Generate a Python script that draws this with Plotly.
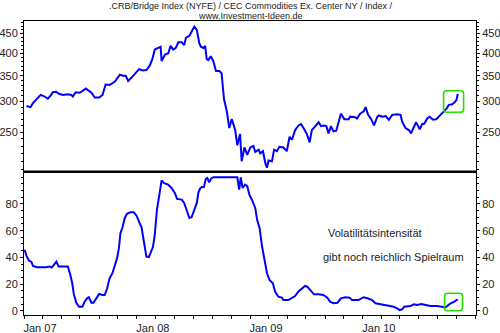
import plotly.graph_objects as go

# CRB/Bridge index (weekly closes, log scale panel)
crb_dates = [
    "2007-01-09", "2007-01-22", "2007-01-30", "2007-02-10", "2007-02-20", "2007-02-24", "2007-03-09", "2007-03-19",
    "2007-03-30", "2007-04-04", "2007-04-15", "2007-04-24", "2007-05-07", "2007-05-23", "2007-06-03", "2007-06-08",
    "2007-06-17", "2007-06-30", "2007-07-11", "2007-07-20", "2007-07-27", "2007-08-07", "2007-08-18", "2007-09-01",
    "2007-09-12", "2007-09-22", "2007-10-05", "2007-10-22", "2007-11-07", "2007-11-17", "2007-11-26", "2007-12-04",
    "2007-12-15", "2007-12-31",
    "2008-01-08", "2008-01-19", "2008-02-01", "2008-02-12", "2008-02-20", "2008-02-28", "2008-03-13", "2008-03-18",
    "2008-03-21", "2008-04-01", "2008-04-12", "2008-04-19", "2008-04-28", "2008-05-06", "2008-05-14", "2008-05-25",
    "2008-06-02", "2008-06-08", "2008-06-19", "2008-06-30", "2008-07-05", "2008-07-13", "2008-07-21", "2008-07-26",
    "2008-08-03", "2008-08-09", "2008-08-14", "2008-08-19", "2008-08-27", "2008-09-04", "2008-09-13", "2008-09-24",
    "2008-10-01", "2008-10-09", "2008-10-18", "2008-10-26", "2008-11-03", "2008-11-14", "2008-11-21", "2008-11-30",
    "2008-12-05", "2008-12-14", "2008-12-23",
    "2009-01-02", "2009-01-12", "2009-01-18", "2009-01-29", "2009-02-03", "2009-02-12", "2009-02-20", "2009-02-25",
    "2009-03-02", "2009-03-13", "2009-03-20", "2009-03-29", "2009-04-06", "2009-04-19", "2009-04-30", "2009-05-09",
    "2009-05-17", "2009-05-27", "2009-06-07", "2009-06-15", "2009-06-23", "2009-07-04", "2009-07-13", "2009-07-20",
    "2009-07-28", "2009-08-11", "2009-08-19", "2009-08-27", "2009-09-05", "2009-09-12", "2009-09-20", "2009-09-28",
    "2009-10-07", "2009-10-14", "2009-10-22", "2009-11-02", "2009-11-16", "2009-11-21", "2009-12-07", "2009-12-13",
    "2009-12-23",
    "2010-01-04", "2010-01-10", "2010-01-18", "2010-01-28", "2010-02-06", "2010-02-17", "2010-02-22", "2010-03-05",
    "2010-03-16", "2010-03-26", "2010-04-06", "2010-04-22", "2010-05-03", "2010-05-08", "2010-05-19", "2010-05-30",
    "2010-06-06", "2010-06-15", "2010-06-22", "2010-06-28", "2010-07-04", "2010-07-12", "2010-07-19", "2010-07-28",
    "2010-08-05", "2010-08-16", "2010-08-27", "2010-09-09", "2010-09-20", "2010-09-28", "2010-10-06", "2010-10-17",
    "2010-10-24", "2010-10-31", "2010-11-04",
]
crb_values = [
    292, 290, 297, 303, 308, 312, 309, 305, 312, 317, 318, 314, 312, 313, 312, 309, 317, 316, 320, 324,
    321, 316, 307, 307, 312, 332, 331, 338, 352, 350, 350, 339, 346, 358,
    364, 361, 362, 372, 386, 409, 413, 416, 382, 397, 400, 418, 409, 413, 427, 427, 420, 439, 444, 463,
    469, 460, 425, 416, 413, 418, 386, 384, 393, 382, 360, 360, 355, 304, 283, 256, 270, 253, 231, 247,
    210, 228, 218,
    228, 230, 222, 225, 220, 223, 207, 202, 211, 210, 225, 223, 229, 228, 223, 243, 239, 253, 260, 262,
    256, 247, 235, 253, 257, 265, 259, 260, 259, 248, 259, 251, 252, 266, 279, 270, 270, 274, 273, 271,
    279,
    283, 290, 277, 270, 260, 274, 276, 274, 275, 269, 277, 278, 277, 266, 256, 253, 248, 259, 265, 260,
    254, 262, 263, 271, 274, 269, 270, 277, 283, 287, 294, 295, 298, 303, 314,
]

# Volatility intensity (0..100)
vol_dates = [
    "2007-01-03", "2007-01-09", "2007-01-17", "2007-01-25", "2007-01-30", "2007-02-12", "2007-03-14", "2007-03-25",
    "2007-04-01", "2007-04-10", "2007-04-16", "2007-04-23", "2007-05-18", "2007-05-23", "2007-05-31", "2007-06-06",
    "2007-06-11", "2007-06-19", "2007-06-28", "2007-07-09", "2007-07-16", "2007-07-24", "2007-07-30", "2007-08-07",
    "2007-08-14", "2007-08-23", "2007-09-01", "2007-09-12", "2007-09-19", "2007-09-27", "2007-10-05", "2007-10-14",
    "2007-10-22", "2007-10-29", "2007-11-04", "2007-11-09", "2007-11-15", "2007-11-23", "2007-11-30", "2007-12-11",
    "2007-12-22", "2007-12-31",
    "2008-01-10", "2008-01-16", "2008-01-21", "2008-01-27", "2008-02-01", "2008-02-09", "2008-02-17", "2008-02-22",
    "2008-02-28", "2008-03-06", "2008-03-13", "2008-03-21", "2008-03-28", "2008-04-11", "2008-04-22", "2008-05-03",
    "2008-05-10", "2008-05-25", "2008-06-02", "2008-06-10", "2008-06-19", "2008-06-26", "2008-07-07", "2008-07-13",
    "2008-07-18", "2008-07-23", "2008-07-29", "2008-08-05", "2008-08-11", "2008-08-16", "2008-08-22", "2008-08-28",
    "2008-09-04", "2008-11-21", "2008-11-27", "2008-12-02", "2008-12-08", "2008-12-16", "2008-12-23", "2008-12-30",
    "2009-01-07", "2009-01-18", "2009-01-24", "2009-02-01", "2009-02-09", "2009-02-16", "2009-02-25", "2009-03-05",
    "2009-03-16", "2009-03-23", "2009-04-03", "2009-04-14", "2009-04-19", "2009-05-05", "2009-05-16", "2009-05-27",
    "2009-06-06", "2009-06-17", "2009-06-28", "2009-07-05", "2009-07-14", "2009-07-27", "2009-08-10", "2009-08-26",
    "2009-09-08", "2009-09-17", "2009-09-28", "2009-10-11", "2009-10-22", "2009-11-05", "2009-11-19", "2009-11-27",
    "2009-12-18",
    "2010-01-03", "2010-01-16", "2010-01-31", "2010-02-11", "2010-03-10", "2010-04-11", "2010-04-22", "2010-04-30",
    "2010-05-08", "2010-05-15", "2010-06-04", "2010-06-15", "2010-06-26", "2010-07-09", "2010-07-23", "2010-08-08",
    "2010-08-30", "2010-09-15", "2010-09-25", "2010-10-12", "2010-10-24", "2010-11-04",
]
vol_values = [
    45.6, 41.1, 37.6, 36.6, 33.6, 32.6, 32.6, 33.1, 32.4, 35.6, 36.8, 33.1, 33.1, 33.1, 26.8, 20.6,
    12.6, 6.0, 3.0, 3.0, 6.8, 9.3, 10.1, 6.0, 6.0, 9.3, 12.6, 11.8, 11.8, 16.8, 24.4, 28.1,
    34.4, 39.4, 46.9, 58.2, 62.0, 69.5, 72.7, 73.7, 73.7, 71.2,
    65.7, 62.7, 55.6, 48.1, 40.6, 40.2, 44.4, 47.7, 56.9, 75.7, 85.7, 97.7, 95.8, 94.5, 92.0, 88.3,
    83.8, 83.3, 80.8, 75.7, 69.5, 70.0, 77.0, 80.8, 88.3, 91.3, 92.8, 92.8, 98.8, 99.5, 96.2, 99.0,
    100, 100, 90.7, 100, 92.0, 94.5, 93.3, 87.0,
    83.2, 77.0, 68.2, 62.0, 48.1, 39.4, 28.1, 23.1, 20.6, 14.3, 10.5, 9.8, 8.0, 8.0, 9.8, 11.0,
    14.3, 16.8, 18.6, 18.0, 15.6, 12.3, 12.3, 11.8, 9.8, 6.8, 5.6, 6.0, 9.3, 10.1, 9.8, 8.0,
    8.0,
    10.1, 9.3, 8.0, 5.6, 4.3, 3.0, 1.8, 0.5, 1.0, 3.0, 3.5, 4.8, 4.3, 5.0, 4.3, 3.5,
    3.5, 3.0, 2.5, 5.6, 6.8, 8.6,
]

# Axis ticks
crb_ticks = [250, 300, 350, 400, 450]
crb_minor = list(range(200, 490, 10))
vol_ticks = [0, 20, 40, 60, 80, 100]
vol_ticktext = ["0", "20", "40", "60", "80", ""]
vol_minor = list(range(0, 105, 5))
x_ticks = [f"{y}-{m:02d}-01" for y in range(2007, 2011) for m in range(1, 13, 2)] + ["2011-01-01"]
x_ticktext = [f"Jan {d[2:4]}" if d[5:7] == "01" and d[:4] != "2011" else "" for d in x_ticks]

title_lines = [
    ".CRB/Bridge Index (NYFE) / CEC Commodities Ex. Center NY / Index /",
    "www.Investment-Ideen.de",
]
note_lines = ["Volatilitätsintensität", "gibt noch reichlich Spielraum"]

LINE = "#0000ff"
FONT = "Liberation Sans, Arial, sans-serif"
TXT = "#222222"
SPLIT = 0.488
X_RANGE = ["2007-01-01", "2011-01-02"]

fig = go.Figure()
fig.add_trace(go.Scatter(x=crb_dates, y=crb_values, mode="lines", xaxis="x", yaxis="y",
                         line=dict(color=LINE, width=2), hoverinfo="skip", showlegend=False))
fig.add_trace(go.Scatter(x=vol_dates, y=vol_values, mode="lines", xaxis="x2", yaxis="y2",
                         line=dict(color=LINE, width=2), hoverinfo="skip", showlegend=False))
# copies bound to the right-hand axes so those axes render with labels
fig.add_trace(go.Scatter(x=crb_dates, y=crb_values, mode="lines", xaxis="x", yaxis="y3",
                         opacity=0, line=dict(width=1), hoverinfo="skip", showlegend=False))
fig.add_trace(go.Scatter(x=vol_dates, y=vol_values, mode="lines", xaxis="x2", yaxis="y4",
                         opacity=0, line=dict(width=1), hoverinfo="skip", showlegend=False))

tickfont = dict(family=FONT, size=11, color=TXT)
crb_range = [2.2956, 2.6857]
vol_range = [-3.2, 104.3]


def yax(side, domain, rng, typ, tickvals, ticktext, minor_vals, overlay=None):
    d = dict(domain=domain, range=rng, type=typ, side=side, anchor="x" if domain[0] > 0 else "x2",
             tickmode="array", tickvals=tickvals, ticktext=ticktext,
             ticks="outside", ticklen=3, tickcolor="black", tickwidth=1,
             minor=dict(tickmode="array", tickvals=minor_vals, ticks="outside", ticklen=2,
                        tickcolor="black", tickwidth=1, showgrid=False),
             showgrid=False, zeroline=False, tickfont=tickfont, automargin=False,
             showline=True, linecolor="black", linewidth=1, fixedrange=True)
    if overlay:
        d["overlaying"] = overlay
    else:
        d["mirror"] = True
    return d


fig.update_layout(
    width=500, height=333,
    margin=dict(l=24, r=24, t=21, b=18, autoexpand=False),
    paper_bgcolor="white", plot_bgcolor="white",
    showlegend=False,
    xaxis=dict(domain=[0, 1], anchor="y", range=X_RANGE, type="date", showticklabels=False,
               ticks="", showgrid=False, zeroline=False, showline=True, mirror=True,
               linecolor="black", linewidth=1, automargin=False),
    xaxis2=dict(domain=[0, 1], anchor="y2", range=X_RANGE, type="date", matches="x",
                tickmode="array", tickvals=x_ticks, ticktext=x_ticktext,
                ticks="outside", ticklen=3, tickcolor="black", tickwidth=1,
                ticklabelshift=16, tickfont=tickfont, automargin=False,
                showgrid=False, zeroline=False, showline=True, mirror=True,
                linecolor="black", linewidth=1),
    yaxis=yax("left", [SPLIT, 1], crb_range, "log", crb_ticks, [str(v) for v in crb_ticks], crb_minor),
    yaxis3=yax("right", [SPLIT, 1], crb_range, "log", crb_ticks, [str(v) for v in crb_ticks], crb_minor, "y"),
    yaxis2=yax("left", [0, SPLIT], vol_range, "linear", vol_ticks, vol_ticktext, vol_minor),
    yaxis4=yax("right", [0, SPLIT], vol_range, "linear", vol_ticks, vol_ticktext, vol_minor, "y2"),
)

# divider between the two panels
fig.add_shape(type="line", xref="paper", yref="paper", x0=0, x1=1, y0=SPLIT, y1=SPLIT,
              line=dict(color="black", width=2))


def rounded_box(x0, x1, y0, y1, r=3):
    # pixel box -> paper coords (plot area 24.3..475.7 x, 21..315 y)
    W, H = 451.4, 294.0
    def px(x):
        return (x - 24.3) / W
    def py(y):
        return (315 - y) / H
    return (f"M {px(x0 + r)},{py(y0)} L {px(x1 - r)},{py(y0)} Q {px(x1)},{py(y0)} {px(x1)},{py(y0 + r)} "
            f"L {px(x1)},{py(y1 - r)} Q {px(x1)},{py(y1)} {px(x1 - r)},{py(y1)} "
            f"L {px(x0 + r)},{py(y1)} Q {px(x0)},{py(y1)} {px(x0)},{py(y1 - r)} "
            f"L {px(x0)},{py(y0 + r)} Q {px(x0)},{py(y0)} {px(x0 + r)},{py(y0)} Z")


GREEN = "#22e000"
fig.add_shape(type="path", xref="paper", yref="paper", path=rounded_box(443.3, 463.3, 90.7, 112.3),
              line=dict(color=GREEN, width=1.6))
fig.add_shape(type="path", xref="paper", yref="paper", path=rounded_box(444.3, 462.3, 293.3, 310.7),
              line=dict(color=GREEN, width=1.6))

# header
fig.add_annotation(text=title_lines[0], xref="paper", yref="paper", x=0.5, y=1 + 15 / 294,
                   xanchor="center", yanchor="middle", showarrow=False,
                   font=dict(family=FONT, size=9, color=TXT))
fig.add_annotation(text=title_lines[1], xref="paper", yref="paper", x=0.5, y=1 + 5 / 294,
                   xanchor="center", yanchor="middle", showarrow=False,
                   font=dict(family=FONT, size=9, color=TXT))

# note in the volatility panel
fig.add_annotation(text=note_lines[0], xref="paper", yref="paper", x=(326 - 24.3) / 451.4,
                   y=(315 - 233) / 294, xanchor="left", yanchor="middle", showarrow=False,
                   font=dict(family=FONT, size=11, color=TXT))
fig.add_annotation(text=note_lines[1], xref="paper", yref="paper", x=(321 - 24.3) / 451.4,
                   y=(315 - 257) / 294, xanchor="left", yanchor="middle", showarrow=False,
                   font=dict(family=FONT, size=11, color=TXT))

fig.write_html("out.html", config={"displayModeBar": False})
